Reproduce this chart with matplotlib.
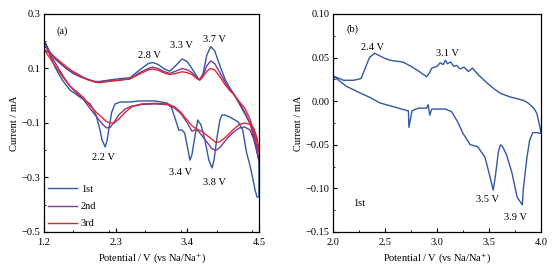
import matplotlib
matplotlib.use("Agg")
from matplotlib import pyplot as plt
from matplotlib.ticker import MultipleLocator

plt.rcParams["font.family"] = ["Liberation Serif", "DejaVu Serif"]
plt.rcParams["font.size"] = 7.5
plt.rcParams["mathtext.fontset"] = "stix"

# ---- panel (a): CV, three cycles (anodic sweep then cathodic sweep) ----
v_up = [1.20, 1.29, 1.37, 1.45, 1.55, 1.64, 1.75, 1.86, 1.98, 2.06, 2.21, 2.37, 2.52,
        2.67, 2.80, 2.87, 2.95, 3.05, 3.13, 3.22, 3.32, 3.40, 3.47, 3.55, 3.59, 3.64,
        3.70, 3.76, 3.82, 3.90, 3.98, 4.05, 4.13, 4.21, 4.28, 4.36, 4.42, 4.47, 4.50]
i1_up = [0.205, 0.160, 0.135, 0.118, 0.098, 0.083, 0.070, 0.060, 0.052, 0.052, 0.058,
         0.063, 0.066, 0.095, 0.118, 0.122, 0.115, 0.098, 0.090, 0.110, 0.135, 0.125,
         0.100, 0.070, 0.058, 0.080, 0.150, 0.180, 0.165, 0.110, 0.060, 0.030, 0.000,
         -0.035, -0.065, -0.100, -0.140, -0.190, -0.235]
i2_up = [0.190, 0.160, 0.140, 0.120, 0.100, 0.085, 0.072, 0.062, 0.052, 0.052, 0.055,
         0.058, 0.062, 0.085, 0.100, 0.105, 0.100, 0.088, 0.082, 0.090, 0.100, 0.095,
         0.085, 0.065, 0.060, 0.075, 0.110, 0.128, 0.118, 0.085, 0.050, 0.025, 0.000,
         -0.030, -0.060, -0.100, -0.150, -0.200, -0.240]
i3_up = [0.170, 0.155, 0.140, 0.125, 0.105, 0.090, 0.075, 0.060, 0.050, 0.048, 0.053,
         0.057, 0.062, 0.080, 0.095, 0.098, 0.094, 0.083, 0.078, 0.082, 0.088, 0.085,
         0.078, 0.062, 0.057, 0.070, 0.090, 0.100, 0.095, 0.070, 0.040, 0.020, 0.000,
         -0.025, -0.045, -0.085, -0.130, -0.170, -0.205]

v1_dn = [4.50, 4.47, 4.44, 4.41, 4.36, 4.31, 4.25, 4.18, 4.05, 3.98, 3.93, 3.90, 3.85,
         3.81, 3.78, 3.73, 3.67, 3.61, 3.56, 3.52, 3.47, 3.44, 3.41, 3.36, 3.32, 3.27,
         3.22, 3.16, 3.09, 2.90, 2.67, 2.52, 2.37, 2.29, 2.24, 2.20, 2.17, 2.14, 2.09,
         2.06, 2.00, 1.91, 1.75, 1.60, 1.48, 1.37, 1.29, 1.20]
i1_dn = [-0.370, -0.372, -0.346, -0.309, -0.254, -0.210, -0.126, -0.096, -0.078,
         -0.071, -0.071, -0.089, -0.162, -0.236, -0.265, -0.236, -0.162, -0.107,
         -0.089, -0.144, -0.217, -0.236, -0.199, -0.137, -0.126, -0.126, -0.089,
         -0.045, -0.027, -0.019, -0.019, -0.023, -0.023, -0.030, -0.060, -0.115,
         -0.162, -0.188, -0.162, -0.126, -0.071, -0.030, -0.005, 0.021, 0.058, 0.105,
         0.150, 0.205]

v23_dn = [4.50, 4.47, 4.42, 4.36, 4.28, 4.20, 4.10, 4.00, 3.90, 3.84, 3.78, 3.70, 3.62,
          3.57, 3.52, 3.47, 3.40, 3.30, 3.20, 3.10, 2.90, 2.70, 2.55, 2.45, 2.35, 2.28,
          2.22, 2.16, 2.10, 2.00, 1.90, 1.80, 1.70, 1.60, 1.50, 1.40, 1.30, 1.20]
i2_dn = [-0.240, -0.210, -0.160, -0.125, -0.115, -0.118, -0.135, -0.160, -0.190,
         -0.200, -0.195, -0.170, -0.145, -0.130, -0.125, -0.130, -0.100, -0.065,
         -0.045, -0.033, -0.030, -0.032, -0.038, -0.048, -0.070, -0.095, -0.115,
         -0.118, -0.105, -0.075, -0.045, -0.012, 0.010, 0.035, 0.070, 0.110, 0.150,
         0.190]
i3_dn = [-0.205, -0.155, -0.120, -0.105, -0.100, -0.105, -0.125, -0.150, -0.168,
         -0.172, -0.160, -0.145, -0.130, -0.125, -0.118, -0.110, -0.090, -0.060,
         -0.040, -0.030, -0.028, -0.030, -0.040, -0.060, -0.085, -0.100, -0.100,
         -0.095, -0.082, -0.060, -0.035, -0.005, 0.015, 0.035, 0.065, 0.100, 0.135,
         0.170]

# ---- panel (b): first cycle ----
vb_up = [2.00, 2.10, 2.20, 2.27, 2.31, 2.35, 2.40, 2.45, 2.50, 2.55, 2.60, 2.67, 2.75,
         2.83, 2.90, 2.93, 2.95, 3.00, 3.03, 3.06, 3.08, 3.10, 3.13, 3.16, 3.19, 3.22,
         3.26, 3.30, 3.34, 3.40, 3.48, 3.55, 3.61, 3.70, 3.83, 3.875, 3.93, 3.96, 3.99,
         4.00]
ib_up = [0.029, 0.024, 0.024, 0.026, 0.038, 0.050, 0.055, 0.052, 0.049, 0.047, 0.046,
         0.045, 0.040, 0.034, 0.028, 0.033, 0.038, 0.040, 0.044, 0.042, 0.047, 0.043,
         0.045, 0.040, 0.041, 0.037, 0.039, 0.034, 0.038, 0.030, 0.021, 0.014, 0.009,
         0.005, 0.001, -0.002, -0.008, -0.014, -0.030, -0.037]
vb_dn = [4.00, 3.96, 3.92, 3.89, 3.865, 3.83, 3.82, 3.77, 3.72, 3.67, 3.63, 3.61, 3.59,
         3.56, 3.54, 3.51, 3.46, 3.39, 3.32, 3.25, 3.20, 3.14, 3.08, 2.95, 2.93, 2.915,
         2.90, 2.82, 2.76, 2.73, 2.725, 2.72, 2.60, 2.45, 2.36, 2.25, 2.13, 2.00]
ib_dn = [-0.037, -0.036, -0.036, -0.045, -0.064, -0.100, -0.119, -0.110, -0.082,
         -0.062, -0.052, -0.050, -0.058, -0.087, -0.102, -0.087, -0.064, -0.052,
         -0.050, -0.037, -0.024, -0.012, -0.009, -0.009, -0.016, -0.004, -0.008,
         -0.008, -0.011, -0.030, -0.011, -0.011, -0.007, -0.002, 0.004, 0.010, 0.017,
         0.029]

blue = "#3158a6"
purple = "#7b3a96"
red = "#e3262d"

fig = plt.figure(figsize=(5.54, 2.75), dpi=100)
ax1 = fig.add_axes([0.0794, 0.1564, 0.3881, 0.7927])
ax2 = fig.add_axes([0.6011, 0.1564, 0.3755, 0.7927])

lw = 1.0
ax1.plot(v_up + v1_dn, i1_up + i1_dn, color=blue, lw=lw, label="1st")
ax1.plot(v_up + v23_dn, i2_up + i2_dn, color=purple, lw=lw, label="2nd")
ax1.plot(v_up + v23_dn, i3_up + i3_dn, color=red, lw=lw, label="3rd")

ax1.set_xlim(1.2, 4.5)
ax1.set_ylim(-0.5, 0.3)
ax1.set_xticks([1.2, 2.3, 3.4, 4.5])
ax1.xaxis.set_minor_locator(MultipleLocator(0.55))
ax1.set_yticks([0.3, 0.1, -0.1, -0.3, -0.5])
ax1.set_yticklabels(["0.3", "0.1", "\u22120.1", "\u22120.3", "\u22120.5"])
ax1.yaxis.set_minor_locator(MultipleLocator(0.1))
ax1.set_xlabel("Potential / V (vs Na/Na$^{+}$)", labelpad=3)
ax1.set_ylabel("Current / mA", labelpad=2)

ax1.text(1.476, 0.238, "(a)", ha="center", va="center")
ax1.text(2.818, 0.146, "2.8 V", ha="center", va="center")
ax1.text(3.317, 0.183, "3.3 V", ha="center", va="center")
ax1.text(3.823, 0.208, "3.7 V", ha="center", va="center")
ax1.text(2.12, -0.225, "2.2 V", ha="center", va="center")
ax1.text(3.30, -0.280, "3.4 V", ha="center", va="center")
ax1.text(3.82, -0.317, "3.8 V", ha="center", va="center")

ax1.legend(loc="lower left", frameon=False, handlelength=2.8, handletextpad=0.4,
           labelspacing=0.75, borderaxespad=0.15, borderpad=0.2)

ax2.plot(vb_up + vb_dn, ib_up + ib_dn, color=blue, lw=lw)
ax2.set_xlim(2.0, 4.0)
ax2.set_ylim(-0.15, 0.10)
ax2.set_xticks([2.0, 2.5, 3.0, 3.5, 4.0])
ax2.xaxis.set_minor_locator(MultipleLocator(0.25))
ax2.set_yticks([0.10, 0.05, 0.00, -0.05, -0.10, -0.15])
ax2.set_yticklabels(["0.10", "0.05", "0.00", "\u22120.05", "\u22120.10", "\u22120.15"])
ax2.yaxis.set_minor_locator(MultipleLocator(0.025))
ax2.set_xlabel("Potential / V (vs Na/Na$^{+}$)", labelpad=3)
ax2.set_ylabel("Current / mA", labelpad=2)

ax2.text(2.19, 0.082, "(b)", ha="center", va="center")
ax2.text(2.375, 0.062, "2.4 V", ha="center", va="center")
ax2.text(3.10, 0.055, "3.1 V", ha="center", va="center")
ax2.text(2.25, -0.117, "1st", ha="center", va="center")
ax2.text(3.49, -0.113, "3.5 V", ha="center", va="center")
ax2.text(3.75, -0.133, "3.9 V", ha="center", va="center")

for ax in (ax1, ax2):
    ax.tick_params(which="both", direction="in", top=False, right=False)
    ax.tick_params(axis="x", which="both", pad=4.5)
    ax.tick_params(axis="y", which="both", pad=2.5)
    ax.tick_params(which="major", length=3, width=0.8)
    ax.tick_params(which="minor", length=1.5, width=0.6)
    for s in ax.spines.values():
        s.set_linewidth(0.9)

fig.savefig("out.png", dpi=100)
